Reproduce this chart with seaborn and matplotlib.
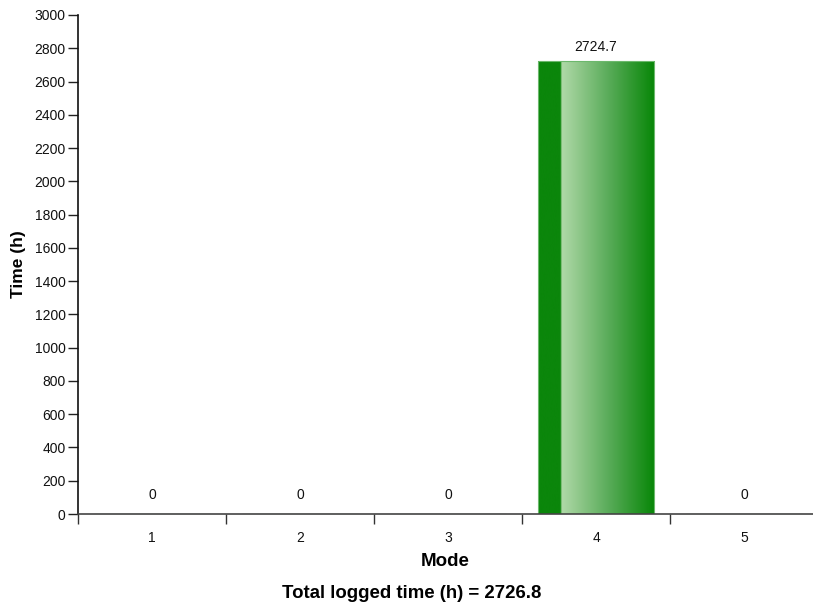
import numpy as np
import pandas as pd
import matplotlib
matplotlib.use("Agg")
import matplotlib.pyplot as plt
from matplotlib.colors import LinearSegmentedColormap
import seaborn as sns

modes = ["1", "2", "3", "4", "5"]
times = [0, 0, 0, 2724.7, 0]
total_time = 2726.8
y_ticks = list(range(0, 3001, 200))

sns.set_style("white")
plt.rcParams["font.family"] = ["Liberation Sans", "DejaVu Sans"]

df = pd.DataFrame({"Mode": modes, "Time": times})

fig = plt.figure(figsize=(8.13, 6.09), dpi=100)
ax = fig.add_axes([78 / 813, (609 - 514) / 609, (813 - 78) / 813, 499 / 609])

sns.barplot(data=df, x="Mode", y="Time", ax=ax, width=0.79, color="#0a870a",
            edgecolor="#6cb86c", linewidth=0.8, saturation=1)

# gradient fill for bars
cmap = LinearSegmentedColormap.from_list(
    "barg", [(0.0, "#0b860b"), (0.195, "#0b860b"), (0.2, "#b0d9a8"),
             (0.6, "#5aac5a"), (1.0, "#078607")])
grad = np.linspace(0, 1, 256).reshape(1, -1)
for p in ax.patches:
    h = p.get_height()
    if h <= 0:
        continue
    x0, w = p.get_x(), p.get_width()
    im = ax.imshow(grad, cmap=cmap, aspect="auto", extent=[x0, x0 + w, 0, h],
                   zorder=p.get_zorder() + 0.1, interpolation="bicubic")
    im.set_clip_path(p)
    p.set_facecolor("none")
    p.set_zorder(p.get_zorder() + 0.2)

# value labels
for i, v in enumerate(times):
    off = 10 if v > 0 else 13.5
    txt = f"{v:g}" if v != 0 else "0"
    ax.annotate(txt, (i, v), xytext=(0, off), textcoords="offset points",
                ha="center", va="center", fontsize=10, color="#111111")

ax.set_xlim(-0.5, 4.466)
ax.set_ylim(0, 3000)
ax.set_yticks(y_ticks)
ax.set_yticklabels([str(t) for t in y_ticks], fontsize=10, color="#111111")
ax.tick_params(axis="y", direction="out", length=7, width=1, color="#222222", pad=2, left=True)

ax.set_xticks(range(len(modes)))
ax.set_xticklabels(modes, fontsize=10, color="#111111")
ax.set_xticks([-0.5, 0.5, 1.5, 2.5, 3.5], minor=True)
ax.tick_params(axis="x", which="major", length=0, pad=12)
ax.tick_params(axis="x", which="minor", direction="out", length=7, width=1,
               color="#333333", bottom=True)

for s in ["top", "right"]:
    ax.spines[s].set_visible(False)
ax.spines["left"].set_color("#111111")
ax.spines["left"].set_linewidth(1.2)
ax.spines["bottom"].set_color("#444444")
ax.spines["bottom"].set_linewidth(1.2)

ax.set_xlabel("Mode", fontsize=13.5, fontweight="bold", labelpad=6, color="black")
ax.set_ylabel("Time (h)", fontsize=12.5, fontweight="bold", labelpad=6, color="black")

fig.text(412 / 813, 1 - 594 / 609, f"Total logged time (h) = {total_time}",
         ha="center", va="center", fontsize=13.4, fontweight="bold", color="black")

fig.savefig("out.png", dpi=100)
